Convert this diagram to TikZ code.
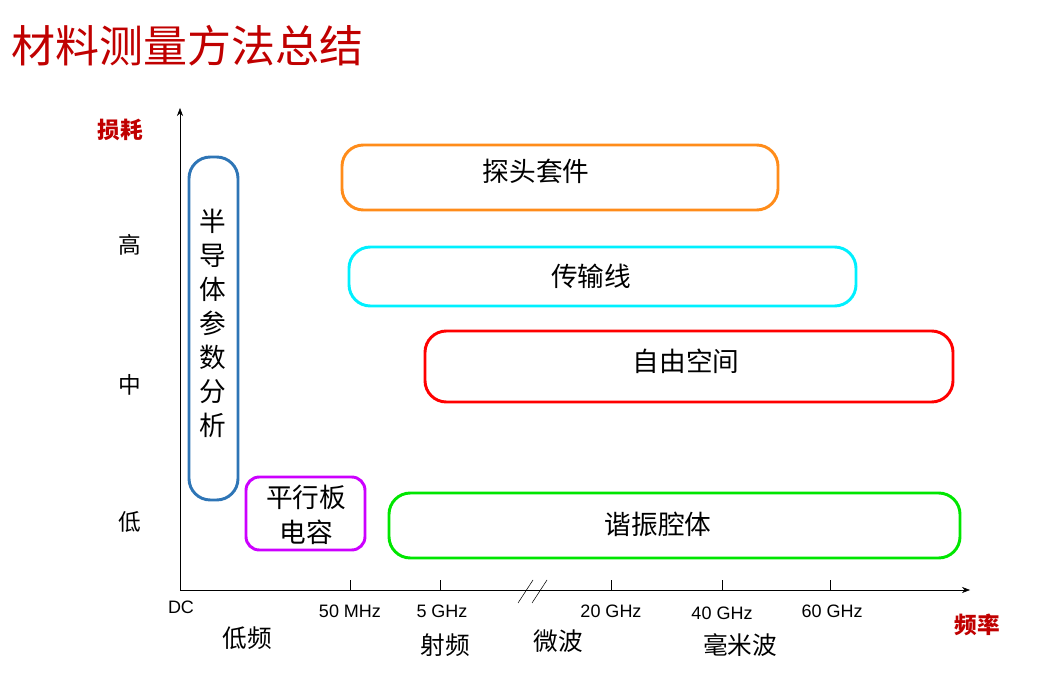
\documentclass[tikz,border=0pt]{standalone}
\usepackage{fontspec}
\setmainfont{Liberation Sans}
\newfontfamily\cjk{Noto Sans CJK SC}
\usetikzlibrary{arrows.meta}
\definecolor{tred}{RGB}{192,0,0}
\definecolor{cblue}{RGB}{46,117,182}
\definecolor{cpurp}{RGB}{204,0,255}
\definecolor{corange}{RGB}{255,140,26}
\definecolor{ccyan}{RGB}{0,240,255}
\definecolor{cred}{RGB}{255,0,0}
\definecolor{cgreen}{RGB}{0,230,0}
\begin{document}
\begin{tikzpicture}[x=0.75pt,y=-0.75pt,
  rangebox/.style={draw,line width=2.2pt,rounded corners=16pt},
  boxtext/.style={font=\cjk\fontsize{20}{24}\selectfont,inner sep=0pt},
  lvl/.style={font=\cjk\fontsize{17}{20}\selectfont,inner sep=0pt},
  ticklab/.style={font=\fontsize{13.5}{16}\selectfont,inner sep=0pt},
  band/.style={font=\cjk\fontsize{18.5}{22}\selectfont,inner sep=0pt},
  axlab/.style={font=\cjk\bfseries\fontsize{17}{20}\selectfont,text=tred,inner sep=0pt}]
\useasboundingbox (0,0) rectangle (1042,673);
\node[anchor=west,font=\cjk\fontsize{33}{36}\selectfont,text=tred,inner sep=0pt] (title) at (11,46) {材料测量方法总结};
% axes
\coordinate (o) at (180,590);
\coordinate (ytop) at (180,108);
\coordinate (xend) at (970,590);
\draw[-{Stealth[length=6pt]},thin] (o) -- (ytop);
\draw[-{Stealth[length=6pt]},thin] (o) -- (xend);
\foreach \x in {350,440,611,722,830} \draw[thin] (\x,580) -- (\x,590);
\draw[thin] (518,603) -- (533,580);
\draw[thin] (532,603) -- (547,580);
\node[axlab] (loss) at (120,130) {损耗};
\node[axlab] (freq) at (977,625) {频率};
\node[lvl] (hi) at (130,245) {高};
\node[lvl] (mid) at (130,385) {中};
\node[lvl] (lo) at (130,522) {低};
\node[ticklab] (dc) at (181,607) {DC};
\node[ticklab] (t1) at (350,611) {50 MHz};
\node[ticklab] (t2) at (442,611) {5 GHz};
\node[ticklab] (t3) at (611,611) {20 GHz};
\node[ticklab] (t4) at (722,613) {40 GHz};
\node[ticklab] (t5) at (832,611) {60 GHz};
\node[band] (b1) at (247,638) {低频};
\node[band] (b2) at (445,645) {射频};
\node[band] (b3) at (558,641) {微波};
\node[band] (b4) at (740,645) {毫米波};
% ranges
\draw[rangebox,cblue] (189,157) rectangle (238,500);
\node[boxtext,align=center,font=\cjk\fontsize{20}{25.5}\selectfont] (semi) at (213,323) {半\\导\\体\\参\\数\\分\\析};
\draw[rangebox,cpurp,rounded corners=10pt] (246,477) rectangle (365,550);
\node[boxtext,align=center,font=\cjk\fontsize{20}{26}\selectfont] (cap) at (306,515) {平行板\\电容};
\draw[rangebox,corange] (342,145) rectangle (778,210);
\node[boxtext] (probe) at (536,171) {探头套件};
\draw[rangebox,ccyan] (349,247) rectangle (856,306);
\node[boxtext] (tl) at (591,276) {传输线};
\draw[rangebox,cred] (425,331) rectangle (953,402);
\node[boxtext] (fs) at (686,361) {自由空间};
\draw[rangebox,cgreen] (389,493) rectangle (960,558);
\node[boxtext] (res) at (658,524) {谐振腔体};
\end{tikzpicture}
\end{document}
